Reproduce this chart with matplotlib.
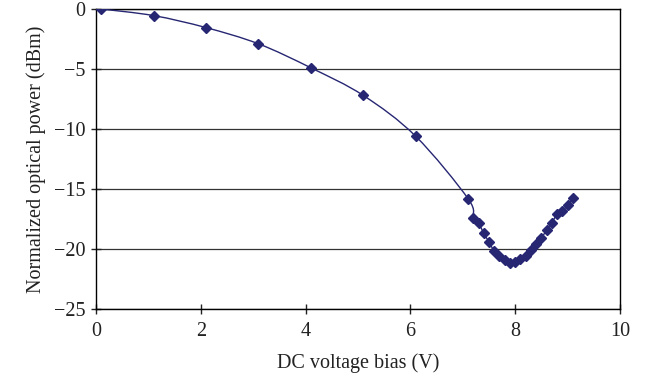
import numpy as np
import matplotlib
matplotlib.use("Agg")
from matplotlib import pyplot as plt
from matplotlib.path import Path
from matplotlib.patches import PathPatch

plt.rcParams['font.family'] = ['Liberation Serif', 'DejaVu Serif']

# DC bias (V) and normalized optical power (dBm)
bias = [0.1, 1.1, 2.1, 3.1, 4.1, 5.1, 6.1, 7.1,
        7.2, 7.3, 7.4, 7.5, 7.6, 7.7, 7.8, 7.9, 8.0,
        8.1, 8.2, 8.3, 8.4, 8.5, 8.6, 8.7, 8.8, 8.9, 9.0, 9.1]
power = [0.0, -0.55, -1.55, -2.9, -4.9, -7.2, -10.6, -15.8,
         -17.4, -17.8, -18.7, -19.4, -20.2, -20.6, -20.95, -21.2, -21.1,
         -20.8, -20.55, -20.1, -19.6, -19.1, -18.4, -17.8, -17.1, -16.85, -16.3, -15.75]

xticks = [0, 2, 4, 6, 8, 10]
yticks = [0, -5, -10, -15, -20, -25]

navy = '#262673'

fig = plt.figure(figsize=(6.53, 3.79), dpi=100)
ax = fig.add_axes([96/653, 1 - 309/379, 524/653, 300/379])

# smoothed line (Catmull-Rom style bezier like a spreadsheet "smoothed line")
x = np.array(bias)
y = np.array(power)
verts = [(x[0], y[0])]
codes = [Path.MOVETO]
for i in range(len(x) - 1):
    x0, y0 = (x[i-1], y[i-1]) if i > 0 else (x[i], y[i])
    x3, y3 = (x[i+2], y[i+2]) if i + 2 < len(x) else (x[i+1], y[i+1])
    c1 = (x[i] + (x[i+1] - x0) / 6, y[i] + (y[i+1] - y0) / 6)
    c2 = (x[i+1] - (x3 - x[i]) / 6, y[i+1] - (y3 - y[i]) / 6)
    verts += [c1, c2, (x[i+1], y[i+1])]
    codes += [Path.CURVE4] * 3
ax.add_patch(PathPatch(Path(verts, codes), fill=False, edgecolor=navy, lw=1.0, zorder=3))
ax.plot(bias, power, ls='none', marker='D', ms=5, color=navy, zorder=4)

ax.set_xlim(0, 10)
ax.set_ylim(-25, 0)
ax.set_xticks(xticks)
ax.set_yticks(yticks)
ax.yaxis.grid(True, color='#333333', lw=0.9)
ax.set_axisbelow(True)
for s in ax.spines.values():
    s.set_color('black')
    s.set_linewidth(1.0)
ax.tick_params(direction='inout', length=7, width=1.0, labelsize=14.5, colors='#222222')
ax.tick_params(axis='x', pad=6)
ax.tick_params(axis='y', pad=4)
ax.set_xlabel('DC voltage bias (V)', fontsize=14.5, labelpad=9, color='#222222')
ax.set_ylabel('Normalized optical power (dBm)', fontsize=14.5, labelpad=6, color='#222222')

fig.savefig('out.png', dpi=100)
